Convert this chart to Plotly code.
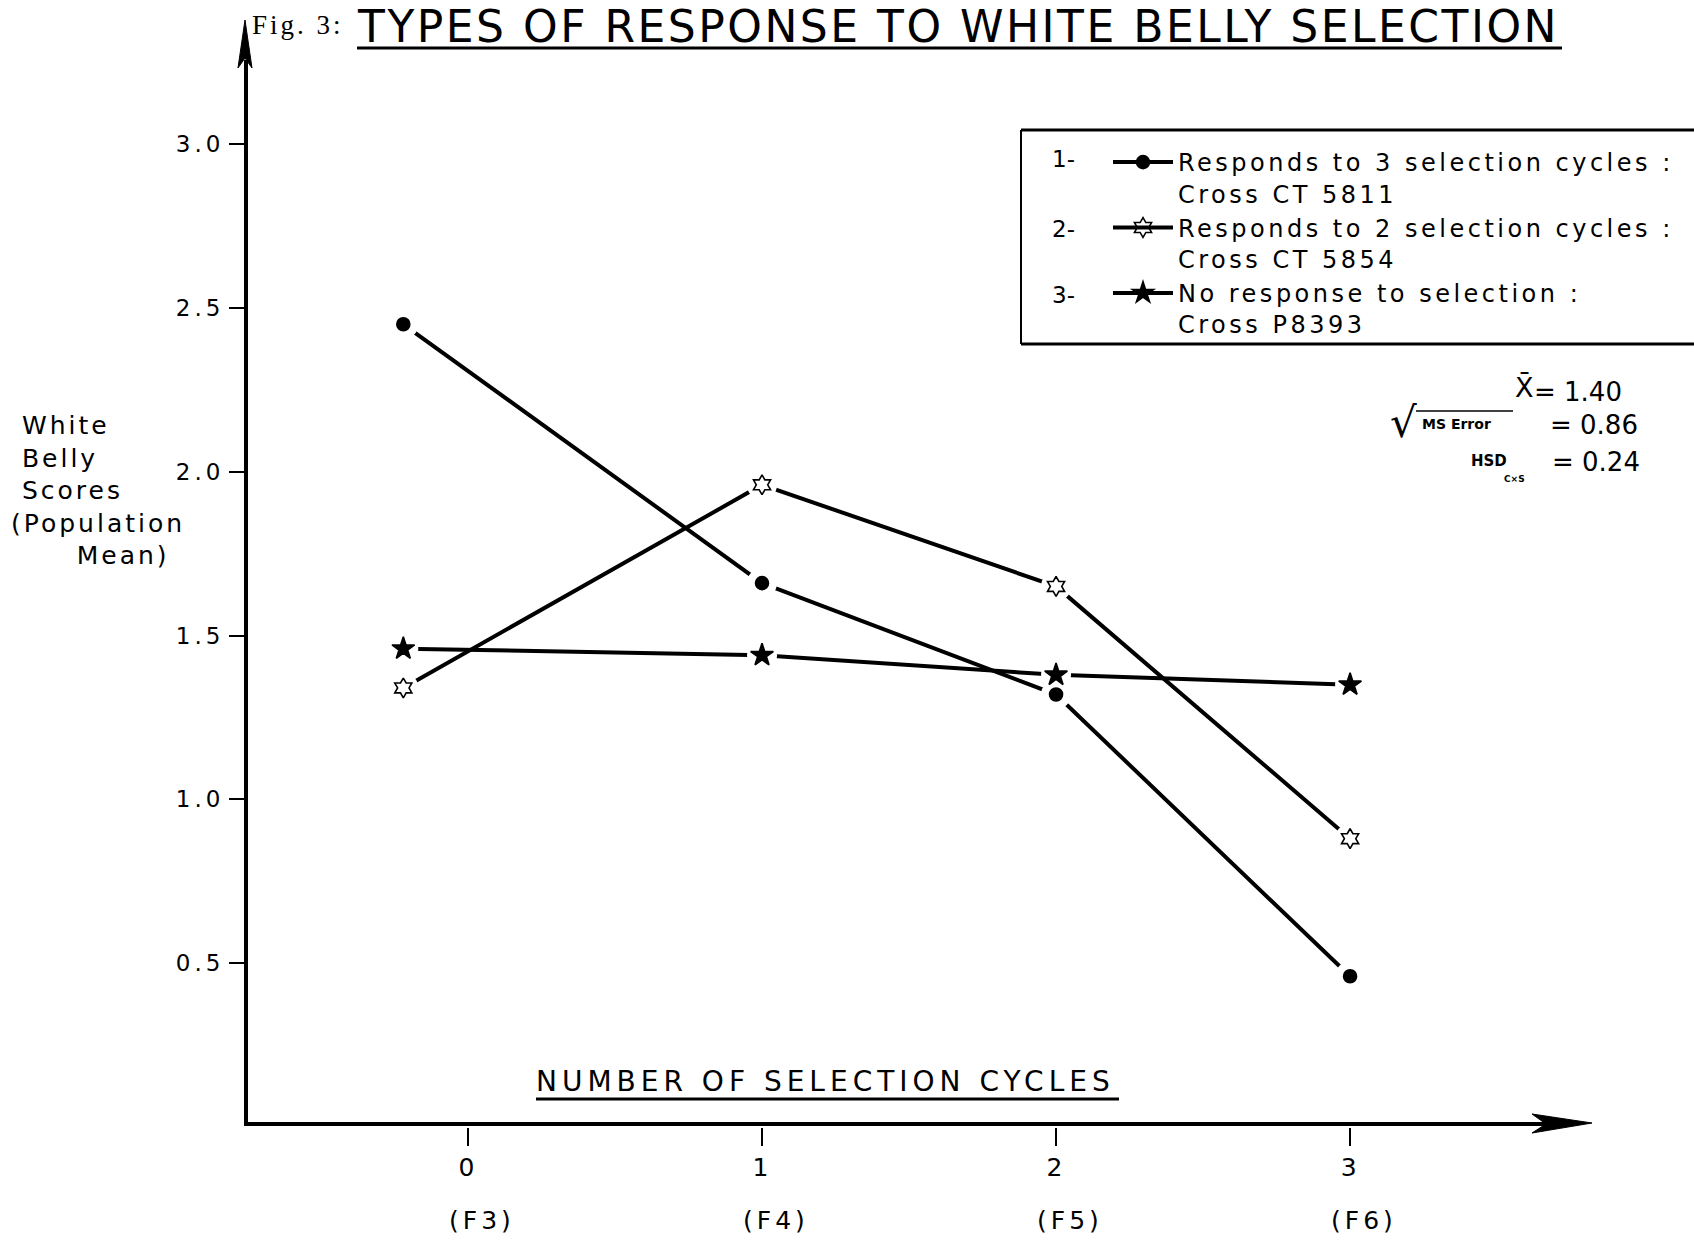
import plotly.graph_objects as go

# ---------------- data ----------------
cycles = [0, 1, 2, 3]
generation_labels = ["(F3)", "(F4)", "(F5)", "(F6)"]
# horizontal positions at which the original plots the four generations
# (the cycle-0 points sit a little left of the "0" tick in the original figure)
x_positions = [-0.22, 1.0, 2.0, 3.0]

y_ct5811 = [2.45, 1.66, 1.32, 0.46]   # 1 - responds to 3 selection cycles
y_ct5854 = [1.34, 1.96, 1.65, 0.88]   # 2 - responds to 2 selection cycles
y_p8393 = [1.46, 1.44, 1.38, 1.35]    # 3 - no response to selection

series_lines = [
    ["Responds to 3 selection cycles :", "Cross CT 5811"],
    ["Responds to 2 selection cycles :", "Cross CT 5854"],
    ["No response to selection :", "Cross P8393"],
]
series_numbers = ["1-", "2-", "3-"]
y_tick_values = [0.5, 1.0, 1.5, 2.0, 2.5, 3.0]

stat_mean = "1.40"
stat_sqrt_mse = "0.86"
stat_hsd = "0.24"

# ---------------- layout geometry ----------------
FIG_W, FIG_H = 1694, 1240
M_L, M_R, M_T, M_B = 246, 94, 13, 113
PLOT_W = FIG_W - M_L - M_R
PLOT_H = FIG_H - M_T - M_B


def px(x):
    return (x - M_L) / PLOT_W


def py(y):
    return (FIG_H - M_B - y) / PLOT_H


def spaced(text, sp):
    return f"<span style='letter-spacing:{sp}px'>{text}</span>"


FONT = "DejaVu Sans"
BLACK = "black"

series_y = [y_ct5811, y_ct5854, y_p8393]
symbols = ["circle", "hexagram-open", "star"]
sizes = [13, 15, 17]
series_names = ["<br>".join(spaced(t, 3.5) for t in lines) for lines in series_lines]

fig = go.Figure()

# lines + markers (legend entries)
for name, ys, sym, sz in zip(series_names, series_y, symbols, sizes):
    fig.add_trace(go.Scatter(
        x=x_positions, y=ys, name=name, mode="lines+markers",
        line=dict(color=BLACK, width=4),
        marker=dict(symbol=sym, size=sz, color=BLACK,
                    line=dict(color=BLACK, width=1.6)),
        cliponaxis=False,
    ))

# white masks leave small gaps between lines and points
mask_x, mask_y = [], []
for ys in series_y:
    mask_x += x_positions
    mask_y += ys
fig.add_trace(go.Scatter(
    x=mask_x, y=mask_y, mode="markers", showlegend=False, hoverinfo="skip",
    marker=dict(symbol="circle", size=30, color="white", line=dict(width=0)),
))

# markers drawn again above the masks
for ys, sym, sz in zip(series_y, symbols, sizes):
    fig.add_trace(go.Scatter(
        x=x_positions, y=ys, mode="markers", showlegend=False,
        marker=dict(symbol=sym, size=sz, color=BLACK,
                    line=dict(color=BLACK, width=1.6)),
    ))

shapes = []
# axis lines
shapes.append(dict(type="line", xref="paper", yref="paper",
                   x0=px(246), y0=py(1126), x1=px(246), y1=py(60),
                   line=dict(color=BLACK, width=4)))
shapes.append(dict(type="line", xref="paper", yref="paper",
                   x0=px(244), y0=py(1124), x1=px(1560), y1=py(1124),
                   line=dict(color=BLACK, width=4)))


def poly(points):
    return "M " + " L ".join(f"{px(a):.5f},{py(b):.5f}" for a, b in points) + " Z"


# arrowheads
shapes.append(dict(type="path", xref="paper", yref="paper",
                   path=poly([(245, 20), (238, 68), (245, 58), (252, 68)]),
                   fillcolor=BLACK, line=dict(color=BLACK, width=1)))
shapes.append(dict(type="path", xref="paper", yref="paper",
                   path=poly([(1592, 1123), (1532, 1114), (1546, 1124), (1532, 1133)]),
                   fillcolor=BLACK, line=dict(color=BLACK, width=1)))
# underlines
shapes.append(dict(type="line", xref="paper", yref="paper",
                   x0=px(357), y0=py(48), x1=px(1562), y1=py(48),
                   line=dict(color=BLACK, width=3)))
shapes.append(dict(type="line", xref="paper", yref="paper",
                   x0=px(536), y0=py(1099), x1=px(1119), y1=py(1099),
                   line=dict(color=BLACK, width=3)))
# legend box (open on the right, running off the page)
shapes.append(dict(type="line", xref="paper", yref="paper",
                   x0=px(1021), y0=py(130), x1=px(1720), y1=py(130),
                   line=dict(color=BLACK, width=3)))
shapes.append(dict(type="line", xref="paper", yref="paper",
                   x0=px(1021), y0=py(130), x1=px(1021), y1=py(344),
                   line=dict(color=BLACK, width=2)))
shapes.append(dict(type="line", xref="paper", yref="paper",
                   x0=px(1021), y0=py(344), x1=px(1720), y1=py(344),
                   line=dict(color=BLACK, width=3)))
# overline of the square root
shapes.append(dict(type="line", xref="paper", yref="paper",
                   x0=px(1416), y0=py(411), x1=px(1513), y1=py(411),
                   line=dict(color=BLACK, width=1.5)))

annotations = []


def ann(text, x, y, size, xanchor="left", yanchor="middle", family=FONT, align="left",
        xref="paper"):
    annotations.append(dict(text=text, x=px(x) if xref == "paper" else x, y=py(y),
                            xref=xref, yref="paper",
                            xanchor=xanchor, yanchor=yanchor, showarrow=False,
                            align=align, font=dict(family=family, size=size, color=BLACK)))


# title
ann(spaced("Fig. 3:", 3), 250, 25, 27, family="Liberation Serif")
ann(spaced("TYPES OF RESPONSE TO WHITE BELLY SELECTION", 2.5), 355, 26, 44)
# x title
ann(spaced("NUMBER OF SELECTION CYCLES", 5), 534, 1081, 28)
# generation labels under the cycle tick labels
for c, g in zip(cycles, generation_labels):
    annotations.append(dict(text=spaced(g, 4), x=c, y=py(1220), xref="x", yref="paper",
                            xanchor="center", yanchor="middle", xshift=14, showarrow=False,
                            font=dict(family=FONT, size=25, color=BLACK)))
# y title
nb = "\u00a0"
ytitle_lines = [nb + "White", nb + "Belly", nb + "Scores", "(Population", nb * 6 + "Mean)"]
ann("<br>".join(spaced(t, 3) for t in ytitle_lines), 9, 409, 25, yanchor="top")
# legend numbers
for num, yy in zip(series_numbers, [159, 229, 295]):
    ann(num, 1050, yy, 23)
# statistics
ann("X\u0304", 1524, 387, 27, xanchor="center")
ann("= " + stat_mean, 1532, 392, 26)
ann("\u221a", 1388, 422, 42)
ann("<b>MS Error</b>", 1420, 424, 14)
ann("= " + stat_sqrt_mse, 1548, 425, 26)
ann("<b>HSD</b>", 1469, 461, 15)
ann("<b>C\u00d7S</b>", 1502, 479, 9)
ann("= " + stat_hsd, 1550, 462, 26)

fig.update_layout(
    width=FIG_W, height=FIG_H,
    margin=dict(l=M_L, r=M_R, t=M_T, b=M_B, pad=0, autoexpand=False),
    paper_bgcolor="white", plot_bgcolor="white",
    font=dict(family=FONT, color=BLACK),
    showlegend=True,
    legend=dict(x=px(1108), y=py(140), xanchor="left", yanchor="top",
                bgcolor="rgba(0,0,0,0)", borderwidth=0,
                font=dict(family=FONT, size=24, color=BLACK),
                itemwidth=60, valign="top", traceorder="normal"),
    xaxis=dict(range=[-0.755, 3.85], tickmode="array", tickvals=cycles,
               ticktext=[spaced(str(c), 3) for c in cycles],
               ticks="outside", ticklen=18, tickwidth=2, tickcolor=BLACK,
               automargin=False,
               showline=False, showgrid=False, zeroline=False,
               tickfont=dict(family=FONT, size=25, color=BLACK)),
    yaxis=dict(range=[0, 3.4], tickmode="array", tickvals=y_tick_values,
               ticktext=[spaced(f"{v:.1f}", 4) for v in y_tick_values],
               ticks="outside", ticklen=16, tickwidth=2, tickcolor=BLACK,
               automargin=False,
               showline=False, showgrid=False, zeroline=False,
               tickfont=dict(family=FONT, size=23, color=BLACK)),
    shapes=shapes,
    annotations=annotations,
)

fig.write_html("out.html", config={"displayModeBar": False},
               post_script="document.body.style.margin='0';document.body.style.overflow='hidden';")
